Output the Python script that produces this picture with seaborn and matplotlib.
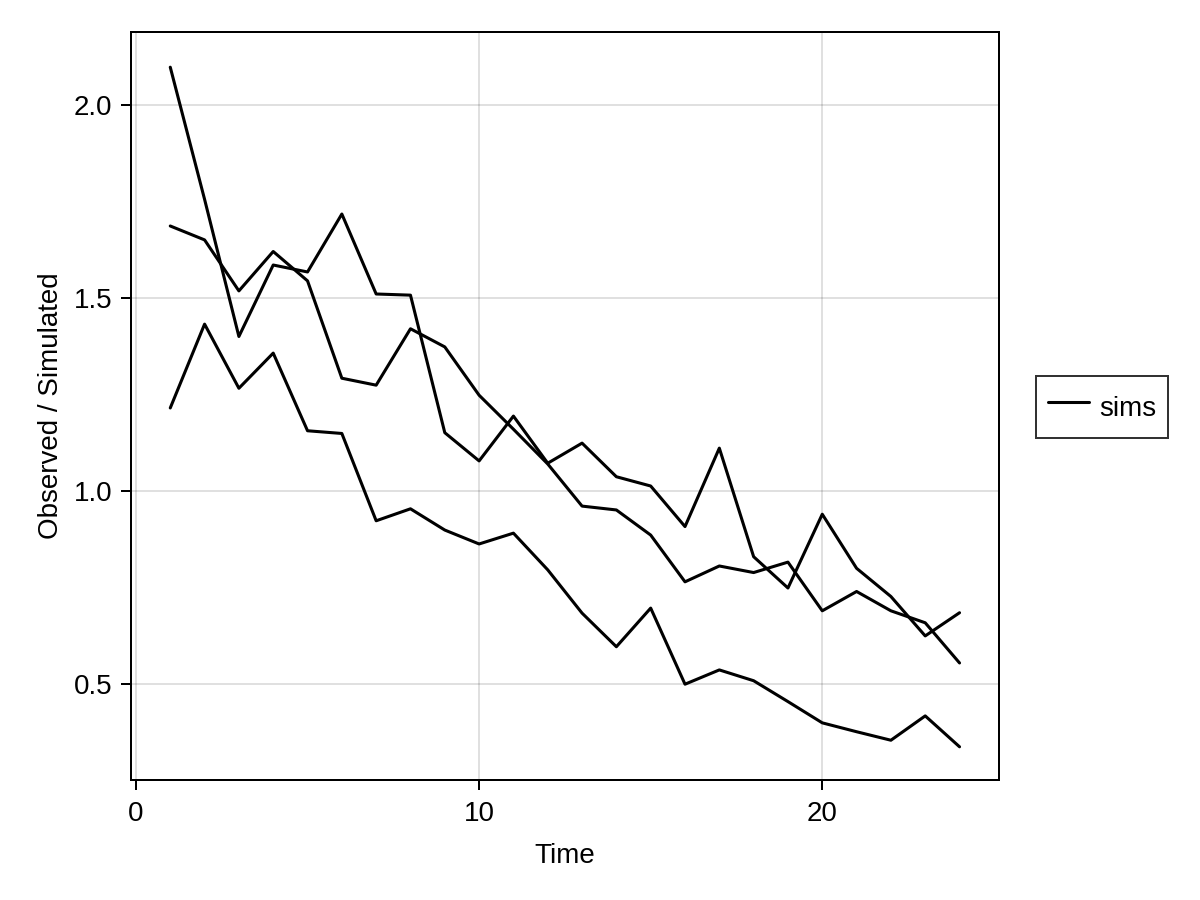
import matplotlib
matplotlib.use("Agg")
import matplotlib.pyplot as plt
from matplotlib.lines import Line2D
import seaborn as sns
import pandas as pd

# three simulated trajectories
time = list(range(1, 25))
sim_a = [2.097, 1.755, 1.400, 1.585, 1.567, 1.717, 1.510, 1.507, 1.151, 1.078, 1.194, 1.072,
         1.124, 1.037, 1.013, 0.908, 1.111, 0.830, 0.749, 0.940, 0.800, 0.727, 0.625, 0.685]
sim_b = [1.686, 1.650, 1.518, 1.620, 1.544, 1.292, 1.274, 1.420, 1.373, 1.248, 1.160, 1.070,
         0.961, 0.951, 0.886, 0.765, 0.806, 0.789, 0.816, 0.690, 0.740, 0.690, 0.659, 0.555]
sim_c = [1.215, 1.432, 1.266, 1.357, 1.156, 1.149, 0.923, 0.954, 0.899, 0.863, 0.891, 0.796,
         0.684, 0.597, 0.697, 0.500, 0.537, 0.509, 0.455, 0.400, 0.377, 0.355, 0.418, 0.338]

df = pd.concat([
    pd.DataFrame({"Time": time, "value": vals, "sim": name})
    for name, vals in [("a", sim_a), ("b", sim_b), ("c", sim_c)]
])

sns.set_theme(style="white")
plt.rcParams["font.family"] = ["Liberation Sans", "DejaVu Sans"]
plt.rcParams["font.size"] = 20
plt.rcParams["text.color"] = "black"
plt.rcParams["axes.labelcolor"] = "black"

fig = plt.figure(figsize=(12, 9), dpi=100)
ax = fig.add_axes([0.109, 0.1333, 0.7235, 0.8311])

sns.lineplot(data=df, x="Time", y="value", units="sim", estimator=None,
             color="black", linewidth=2.2, ax=ax)

ax.set_xlim(-0.15, 25.15)
ax.set_ylim(0.252, 2.188)
ax.set_xticks([0, 10, 20])
ax.set_yticks([0.5, 1.0, 1.5, 2.0])
ax.grid(True, color="black", alpha=0.12, linewidth=1.44)
ax.set_axisbelow(True)

for s in ax.spines.values():
    s.set_visible(True)
    s.set_color("black")
    s.set_linewidth(1.44)

ax.tick_params(axis="both", which="major", direction="out", length=7.2, width=1.44,
               labelsize=20, colors="black", bottom=True, left=True)
ax.tick_params(axis="x", pad=8)
ax.tick_params(axis="y", pad=6)
ax.set_xlabel("Time", fontsize=20, labelpad=11.5, color="black")
ax.set_ylabel("Observed / Simulated", fontsize=20, labelpad=7.2, color="black")

handle = Line2D([], [], color="black", linewidth=2.2)
leg = fig.legend([handle], ["sims"], loc="center left", bbox_to_anchor=(0.8633, 0.5478),
                 frameon=True, fancybox=False, edgecolor="black", fontsize=20,
                 handlelength=1.45, handletextpad=0.36, handleheight=1.7,
                 borderpad=0.45, borderaxespad=0)
leg.get_frame().set_linewidth(1.44)

fig.savefig("out.png", dpi=100)
